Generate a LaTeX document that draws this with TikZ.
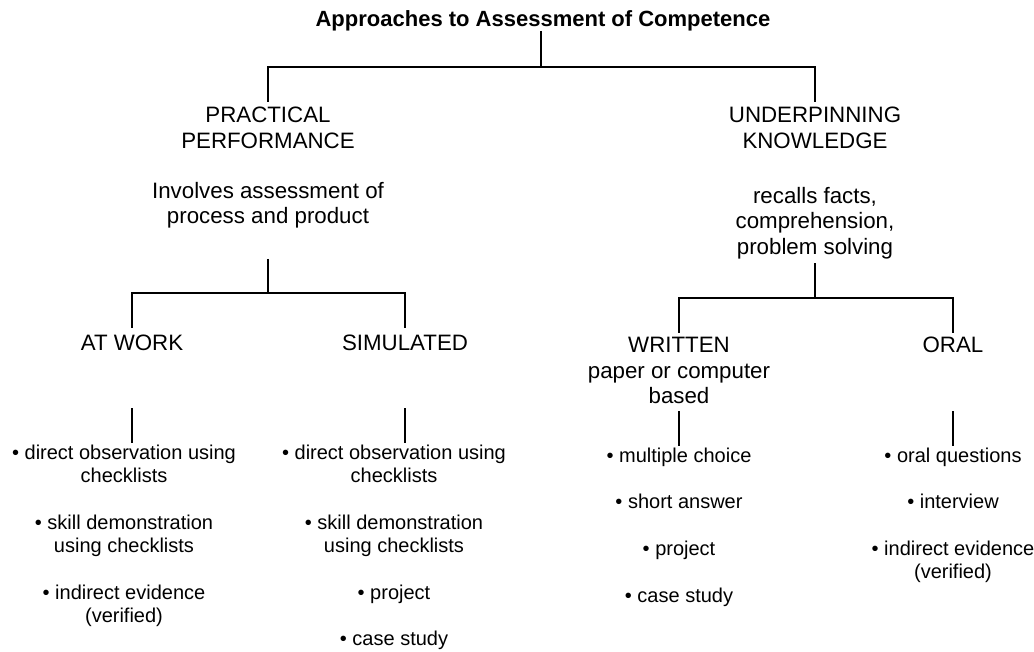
\documentclass[tikz,border=0pt]{standalone}
\usepackage{fontspec}
\setmainfont{Liberation Sans}

\begin{document}
\begin{tikzpicture}[x=1pt, y=-1pt,
		head/.style={inner sep=0pt, anchor=north, align=center, font=\fontsize{22.3}{25.6}\selectfont},
		toptitle/.style={head, font=\bfseries\fontsize{22}{25.6}\selectfont},
		items/.style={inner sep=0pt, anchor=north, align=center, font=\fontsize{20}{23.3}\selectfont},
		branch/.style={line width=2pt}]
				\useasboundingbox (0,0) rectangle (1034,652);
				\node[toptitle] (title)at(543, 10) {Approaches to Assessment of Competence};
				\node[head] (pp)at(268, 107) {PRACTICAL\\PERFORMANCE};
				\node[head] (uk)at(815, 107) {UNDERPINNING\\KNOWLEDGE};
				\node[head] (inv)at(268, 182) {Involves assessment of\\process and product};
				\node[head] (rec)at(815, 187) {recalls facts,\\comprehension,\\problem solving};
				\node[head] (aw)at(132, 335) {AT WORK};
				\node[head] (sim)at(405, 335) {SIMULATED};
				\node[head] (wr)at(679, 337) {WRITTEN\\paper or computer\\based};
				\node[head] (oral)at(953, 337) {ORAL};
				\node[items] (awlist)at(124, 444.6) {• direct observation using\\checklists\\[23.3pt]• skill demonstration\\using checklists\\[23.3pt]• indirect evidence\\(verified)};
				\node[items] (simlist)at(394, 444.6) {• direct observation using\\checklists\\[23.3pt]• skill demonstration\\using checklists\\[23.3pt]• project\\[23.3pt]• case study};
				\node[items] (wrlist)at(679, 447.6) {• multiple choice\\[23.3pt]• short answer\\[23.3pt]• project\\[23.3pt]• case study};
				\node[items] (orallist)at(953, 447.6) {• oral questions\\[23.3pt]• interview\\[23.3pt]• indirect evidence\\(verified)};
				\coordinate (j0) at (541, 67);
				\coordinate (j1) at (268, 293);
				\coordinate (j2) at (815, 298);
				\draw[branch] (title.south -| j0) -- (j0);
				\draw[branch] ([yshift=5pt]pp.north) |- (j0) -| ([yshift=5pt]uk.north);
				\draw[branch] ([yshift=-30pt]inv.south) -- (j1);
				\draw[branch] ([yshift=7pt]aw.north) |- (j1) -| ([yshift=7pt]sim.north);
				\draw[branch] ([yshift=-4pt]rec.south) -- (j2);
				\draw[branch] ([yshift=4pt]wr.north) |- (j2) -| ([yshift=4pt]oral.north);
				\foreach \h/\l in {aw/awlist, sim/simlist, wr/wrlist, oral/orallist}
					\draw[branch] (\h.south |- \l.north) ++(0,-2) -- ++(0,-35);
			\end{tikzpicture}
\end{document}
